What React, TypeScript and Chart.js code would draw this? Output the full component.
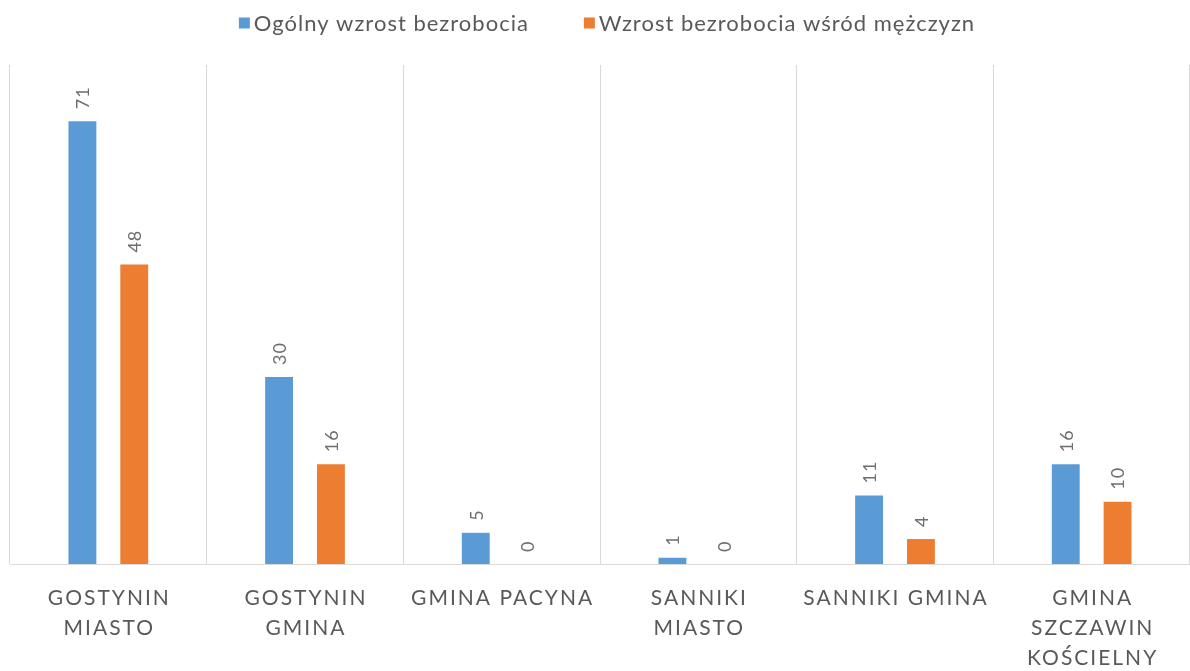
import React, { useEffect, useRef } from "react";
import { Chart, registerables } from "chart.js";

Chart.register(...registerables);

const categories: string[][] = [
  ["GOSTYNIN", "MIASTO"],
  ["GOSTYNIN", "GMINA"],
  ["GMINA PACYNA"],
  ["SANNIKI", "MIASTO"],
  ["SANNIKI GMINA"],
  ["GMINA", "SZCZAWIN", "KOŚCIELNY"],
];
const seriesNames = ["Ogólny wzrost bezrobocia", "Wzrost bezrobocia wśród mężczyzn"];
const totalIncrease = [71, 30, 5, 1, 11, 16];
const maleIncrease = [48, 16, 0, 0, 4, 10];
const colors = ["#5B9BD5", "#ED7D31"];

const FONT = "Lato, 'Open Sans', sans-serif";

const customPlugin = {
  id: "customDraw",
  afterDatasetsDraw(chart: any) {
    const ctx = chart.ctx as CanvasRenderingContext2D;
    // data labels
    ctx.save();
    ctx.fillStyle = "#6e6e6e";
    ctx.font = `18px ${FONT}`;
    (ctx as any).letterSpacing = "1px";
    ctx.textAlign = "left";
    ctx.textBaseline = "middle";
    chart.data.datasets.forEach((ds: any, di: number) => {
      const meta = chart.getDatasetMeta(di);
      meta.data.forEach((bar: any, i: number) => {
        ctx.save();
        ctx.translate(bar.x + 1, bar.y - 12);
        ctx.rotate(-Math.PI / 2);
        ctx.fillText(String(ds.data[i]), 0, 0);
        ctx.restore();
      });
    });
    ctx.restore();
  },
  afterDraw(chart: any) {
    const ctx = chart.ctx as CanvasRenderingContext2D;
    const xScale = chart.scales.x;
    const area = chart.chartArea;
    // x labels
    ctx.save();
    ctx.fillStyle = "#595959";
    ctx.font = `21px ${FONT}`;
    (ctx as any).letterSpacing = "2px";
    ctx.textAlign = "center";
    ctx.textBaseline = "middle";
    (chart.data.labels as string[][]).forEach((lines, i) => {
      const x = xScale.getPixelForValue(i);
      lines.forEach((line, li) => {
        ctx.fillText(line, x + 1, area.bottom + 34 + li * 30);
      });
    });
    ctx.restore();

    // legend
    ctx.save();
    ctx.font = `22px ${FONT}`;
    (ctx as any).letterSpacing = "1px";
    ctx.textBaseline = "middle";
    ctx.textAlign = "left";
    const box = 11;
    const gapBoxText = 4;
    const itemGap = 55;
    const items = chart.data.datasets.map((ds: any) => ({
      text: ds.label as string,
      color: ds.backgroundColor as string,
      w: box + gapBoxText + ctx.measureText(ds.label).width,
    }));
    const total = items.reduce((s: number, it: any) => s + it.w, 0) + itemGap * (items.length - 1);
    let x = (area.left + area.right) / 2 + 7 - total / 2;
    const y = 23;
    items.forEach((it: any) => {
      ctx.fillStyle = it.color;
      ctx.fillRect(x, y - box / 2, box, box);
      ctx.fillStyle = "#595959";
      ctx.fillText(it.text, x + box + gapBoxText, y + 1);
      x += it.w + itemGap;
    });
    ctx.restore();
  },
};

export default function App() {
  const canvasRef = useRef<HTMLCanvasElement | null>(null);

  useEffect(() => {
    if (!canvasRef.current) return;
    const chart = new Chart(canvasRef.current, {
      type: "bar",
      data: {
        labels: categories as any,
        datasets: [
          {
            label: seriesNames[0],
            data: totalIncrease,
            backgroundColor: colors[0],
            categoryPercentage: 0.527,
            barPercentage: 0.538,
          },
          {
            label: seriesNames[1],
            data: maleIncrease,
            backgroundColor: colors[1],
            categoryPercentage: 0.527,
            barPercentage: 0.538,
          },
        ],
      },
      options: {
        animation: false,
        responsive: true,
        maintainAspectRatio: false,
        layout: { padding: { top: 65, left: 10, right: -4, bottom: 107 } },
        plugins: {
          legend: { display: false },
          tooltip: { enabled: false },
        },
        scales: {
          x: {
            display: true,
            grid: {
              display: true,
              offset: true,
              color: "#d9d9d9",
              lineWidth: 1,
              drawTicks: false,
            },
            border: { display: true, color: "#d9d9d9", width: 1 },
            ticks: { display: false },
          },
          y: {
            display: false,
            min: 0,
            max: 80,
          },
        },
      },
      plugins: [customPlugin],
    });
    return () => chart.destroy();
  }, []);

  return (
    <div style={{ position: "fixed", left: 0, top: 0, width: 1190, height: 671, background: "#fff" }}>
      <canvas ref={canvasRef} />
    </div>
  );
}
